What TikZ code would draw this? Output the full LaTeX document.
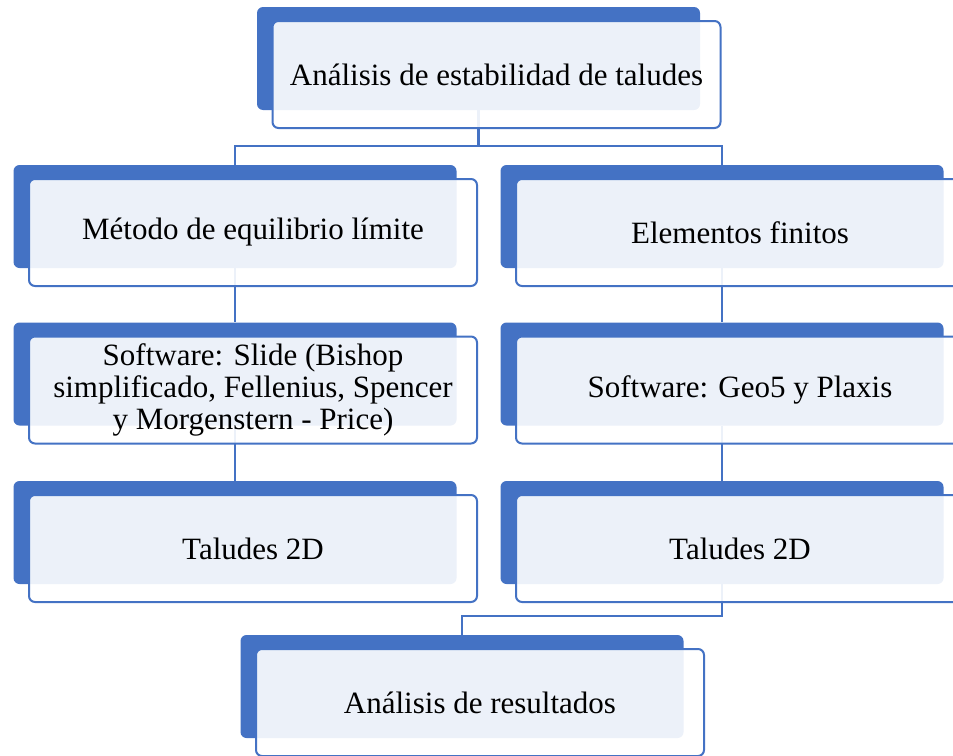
\documentclass[tikz,border=0pt]{standalone}
\usepackage{fontspec}
\setmainfont{Liberation Serif}
\usetikzlibrary{positioning}
\definecolor{azul}{HTML}{4472C4}

\tikzset{
    fondo/.style={fill=azul, rounded corners=6pt, minimum width=443pt, minimum height=103pt, inner sep=0pt},
    caja/.style={draw=azul, line width=2pt, fill=white, fill opacity=0.9, text opacity=1, rounded corners=6pt,
        minimum width=448pt, minimum height=107pt, inner sep=0pt, align=center,
        font=\fontsize{31}{32}\selectfont},
    linea/.style={draw=azul, line width=2.2pt}
}

\begin{document}
\begin{tikzpicture}[x=1pt, y=-1pt]
\useasboundingbox (0,0) rectangle (953,755);

% cajas de fondo
\node[fondo] (ana) at (478.5,58.5) {};
\node[fondo] (met) at (235,216.5) {};
\node[fondo] (ele) at (722,216.5) {};
\node[fondo] (sli) at (235,374) {};
\node[fondo] (geo) at (722,374) {};
\node[fondo] (tal1) at (235,532.5) {};
\node[fondo] (tal2) at (722,532.5) {};
\node[fondo] (res) at (462,686.5) {};

% conectores
\draw[linea] (ana.south) -- ++(0,36) -| (met.north);
\draw[linea] (ana.south) -- ++(0,36) -| (ele.north);
\draw[linea] (met.south) -- (sli.north);
\draw[linea] (ele.south) -- (geo.north);
\draw[linea] (sli.south) -- (tal1.north);
\draw[linea] (geo.south) -- (tal2.north);
\draw[linea] (tal2.south) -- ++(0,32) -| (res.north);

% cajas de texto
\node[caja] (anaT) at ([xshift=18pt,yshift=-16pt]ana.center) {Análisis de estabilidad de taludes};
\node[caja] (metT) at ([xshift=18pt,yshift=-16pt]met.center) {Método de equilibrio límite};
\node[caja] (eleT) at ([xshift=18pt,yshift=-16pt]ele.center) {Elementos finitos};
\node[caja] (sliT) at ([xshift=18pt,yshift=-16pt]sli.center) {Software: Slide (Bishop\\simplificado, Fellenius, Spencer\\y Morgenstern - Price)};
\node[caja] (geoT) at ([xshift=18pt,yshift=-16pt]geo.center) {Software: Geo5 y Plaxis};
\node[caja] (tal1T) at ([xshift=18pt,yshift=-16pt]tal1.center) {Taludes 2D};
\node[caja] (tal2T) at ([xshift=18pt,yshift=-16pt]tal2.center) {Taludes 2D};
\node[caja] (resT) at ([xshift=18pt,yshift=-16pt]res.center) {Análisis de resultados};
\end{tikzpicture}
\end{document}
